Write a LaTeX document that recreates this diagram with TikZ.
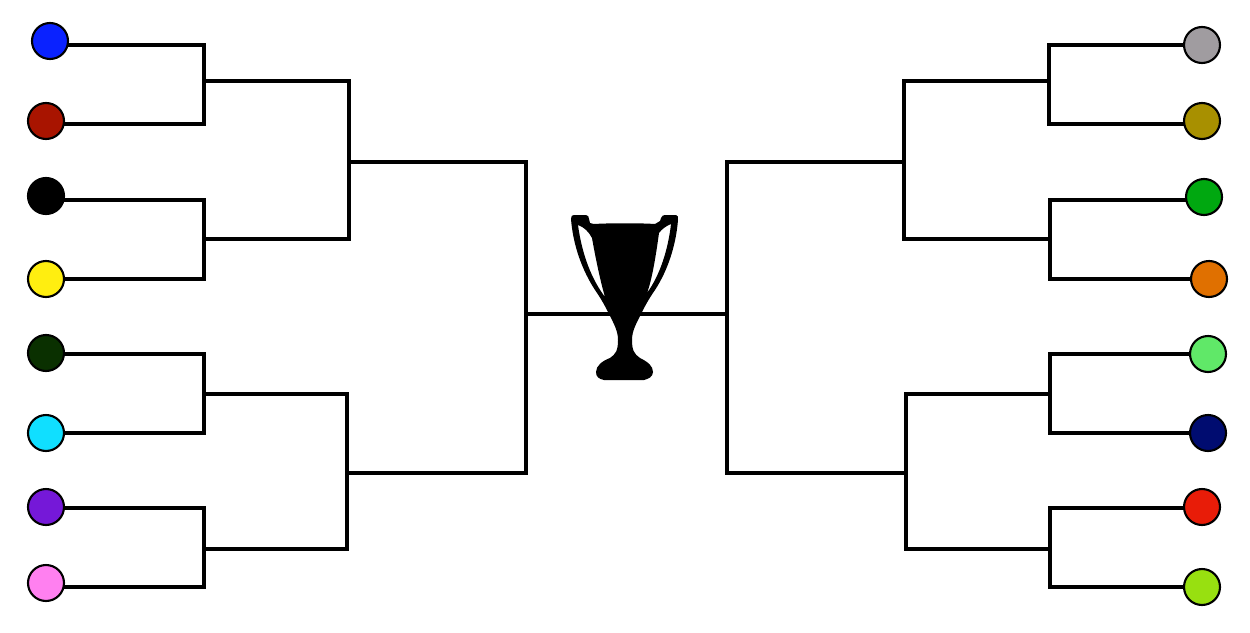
\documentclass[tikz,border=0pt]{standalone}
\usepackage{tikz}
\usetikzlibrary{backgrounds}

\definecolor{teamA}{HTML}{0A22FF}
\definecolor{teamB}{HTML}{A81400}
\definecolor{teamC}{HTML}{000000}
\definecolor{teamD}{HTML}{FFEE10}
\definecolor{teamE}{HTML}{0A3000}
\definecolor{teamF}{HTML}{10DFFF}
\definecolor{teamG}{HTML}{7518D8}
\definecolor{teamH}{HTML}{FF80F0}
\definecolor{teamI}{HTML}{A09CA0}
\definecolor{teamJ}{HTML}{A89000}
\definecolor{teamK}{HTML}{00A810}
\definecolor{teamL}{HTML}{E07000}
\definecolor{teamM}{HTML}{60E868}
\definecolor{teamN}{HTML}{000C70}
\definecolor{teamO}{HTML}{E81C08}
\definecolor{teamP}{HTML}{98E010}

\tikzset{
	team/.style={circle, draw=black, line width=1.2pt, minimum size=0.72cm, inner sep=0pt, outer sep=0pt},
	bracket/.style={line width=2.8pt, black, line join=miter}
}

\begin{document}
\begin{tikzpicture}[x=0.02cm, y=-0.02cm]
	\useasboundingbox (0,0) rectangle (1250,632);

	% Team dots
	\foreach \name/\px/\py in {A/50/41, B/46/121, C/46/196, D/46/279, E/46/353, F/46/433, G/46/507, H/46/583,
		I/1202/45, J/1202/121, K/1204/197, L/1209/279, M/1208/354, N/1208/433, O/1202/507, P/1202/587}
		\node[team, fill=team\name] (team\name) at (\px,\py) {};

	% Junctions of second round
	\coordinate (qa) at (204,81);
	\coordinate (qb) at (204,239);
	\coordinate (qc) at (204,394);
	\coordinate (qd) at (204,549);
	\coordinate (qe) at (1049,81);
	\coordinate (qf) at (1050,239);
	\coordinate (qg) at (1050,394);
	\coordinate (qh) at (1050,549);

	% Junctions of semi finals
	\coordinate (sa) at (349,162);
	\coordinate (sb) at (347,473);
	\coordinate (sc) at (904,162);
	\coordinate (sd) at (906,473);

	% Junctions of final
	\coordinate (fa) at (526,314);
	\coordinate (fb) at (727,314);

	\begin{scope}[on background layer]
		% First round
		\foreach \upper/\ya/\lower/\yb/\join in {A/45/B/124/qa, C/200/D/279/qb, E/354/F/433/qc, G/508/H/587/qd,
			I/45/J/124/qe, K/200/L/279/qf, M/354/N/433/qg, O/508/P/587/qh}
			\draw[bracket] (team\upper |- 0,\ya) -| (\join) |- (team\lower |- 0,\yb);

		% Second round
		\draw[bracket] (qa) -| (sa) |- (qb);
		\draw[bracket] (qc) -| (sb) |- (qd);
		\draw[bracket] (qe) -| (sc) |- (qf);
		\draw[bracket] (qg) -| (sd) |- (qh);

		% Semi finals
		\draw[bracket] (sa) -| (fa) |- (sb);
		\draw[bracket] (sc) -| (fb) |- (sd);

		% Final
		\draw[bracket] (fa) -- (fb);
	\end{scope}

	% Trophy
	\fill[black, even odd rule]
		(571,219) .. controls (571,216) and (572,215) .. (574,215)
		-- (586,215) .. controls (588,215) and (589,217) .. (589,219)
		-- (590,223) -- (594,224) .. controls (610,223) and (640,223) .. (655,224)
		-- (660,221) -- (661,218) .. controls (662,216) and (663,215) .. (665,215)
		-- (676,215) .. controls (678,215) and (678,217) .. (678,220)
		.. controls (676,245) and (668,270) .. (655,290)
		.. controls (648,300) and (644,308) .. (641,314)
		.. controls (636,324) and (632,331) .. (632,340)
		.. controls (632,350) and (634,354) .. (640,358)
		.. controls (648,362) and (653,366) .. (653,372)
		.. controls (653,377) and (648,379) .. (644,380)
		-- (604,380) .. controls (599,379) and (596,377) .. (596,372)
		.. controls (596,366) and (602,361) .. (610,358)
		.. controls (616,354) and (618,350) .. (618,340)
		.. controls (618,331) and (614,324) .. (609,314)
		.. controls (606,308) and (602,300) .. (595,290)
		.. controls (582,270) and (573,245) .. (571,219) -- cycle
		% Holes between the handles and the cup
		(578,225) .. controls (584,227) and (589,232) .. (592,238)
		.. controls (595,255) and (600,280) .. (605,297)
		.. controls (592,280) and (582,255) .. (578,225) -- cycle
		(671,224) .. controls (666,226) and (662,229) .. (659,233)
		.. controls (656,255) and (652,280) .. (647,293)
		.. controls (660,275) and (668,250) .. (671,224) -- cycle;
\end{tikzpicture}
\end{document}
